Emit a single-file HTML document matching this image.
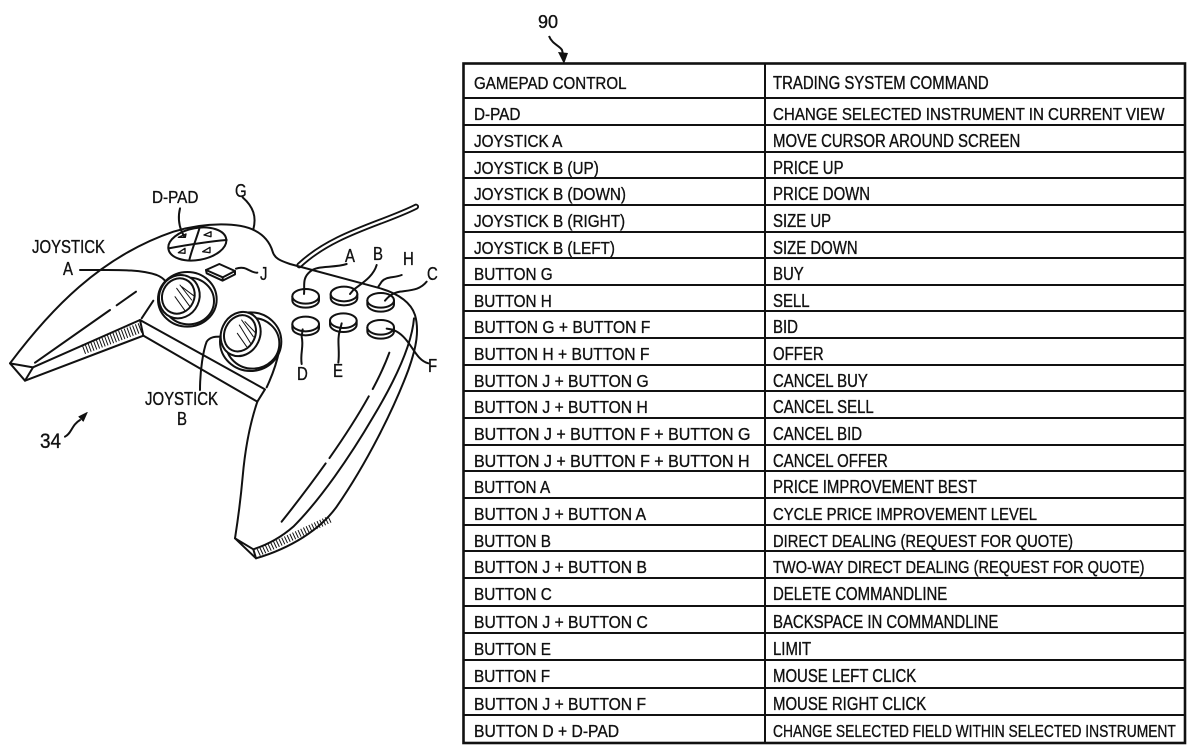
<!DOCTYPE html>
<html><head><meta charset="utf-8"><style>
html,body{margin:0;padding:0;background:#fff;}
svg{display:block;}
text{font-family:"Liberation Sans",Arial,sans-serif;fill:#111;stroke:#111;stroke-width:0.35px;}
</style></head><body>
<svg width="1200" height="756" viewBox="0 0 1200 756" xmlns="http://www.w3.org/2000/svg">
<rect width="1200" height="756" fill="#fff"/>

<!-- ===== GAMEPAD (zoom coords: scale 1/3, offset y 190) ===== -->
<g transform="translate(0,190) scale(0.33333)" fill="none" stroke="#111" stroke-width="6" stroke-linecap="round" stroke-linejoin="round">
  <!-- cable -->
  <path d="M1248,50 C1150,100 1000,130 898,226" stroke-width="18"/>
  <path d="M1248,50 C1150,100 1000,130 898,226" stroke="#fff" stroke-width="7"/>
  <!-- body outer outline -->
  <path d="M30,520 C150,360 300,200 520,125 C620,95 720,98 765,122 C800,140 812,165 818,185 C824,205 840,212 870,222 L1130,292 C1190,308 1232,335 1245,375 C1258,420 1250,470 1225,540 C1180,660 1100,820 1010,950 C960,1020 870,1075 768,1105"/>
  <!-- left handle -->
  <path d="M30,520 L75,572 L99,532 Z"/>
  <path d="M75,572 L430,437"/>
  <path d="M99,532 L420,390"/>
  <path d="M250,478 L425,412" stroke-width="30" stroke-dasharray="3,6" stroke-linecap="butt"/>
  <path d="M420,390 L795,598 L772,635 L430,437 Z"/>
  <path d="M105,518 L330,360 M350,346 L408,305"/>
  <path d="M425,385 L460,332"/>
  <!-- right handle -->
  <path d="M772,635 C750,700 735,780 728,860 C720,950 712,1000 705,1045"/>
  <path d="M705,1045 L760,1078 L768,1105 Z"/>
  <path d="M1242,385 C1235,470 1180,580 1120,680 C1050,800 960,930 880,1010 C840,1045 800,1065 760,1078"/>
  <path d="M775,1088 L995,985" stroke-width="22" stroke-dasharray="3,6" stroke-linecap="butt"/>
  <path d="M1168,488 C1120,620 1000,800 845,995" stroke-dasharray="120,25,220,20,400"/>
  <path d="M838,480 C830,520 815,560 800,592"/>
  <!-- joystick A -->
  <g fill="#fff">
    <ellipse cx="562" cy="328" rx="88" ry="82"/>
    <ellipse cx="566" cy="333" rx="76" ry="70"/>
    <ellipse cx="538" cy="320" rx="60" ry="66" transform="rotate(25 538 320)"/>
    <ellipse cx="535" cy="318" rx="48" ry="54" transform="rotate(25 535 318)"/>
  </g>
  <path d="M540,285 L575,330 M530,295 L570,350 M545,290 L585,320 M525,320 L555,362" stroke-width="3"/>
  <!-- joystick B -->
  <g fill="#fff">
    <ellipse cx="752" cy="455" rx="92" ry="88"/>
    <ellipse cx="758" cy="460" rx="80" ry="76"/>
    <ellipse cx="722" cy="432" rx="58" ry="68" transform="rotate(25 722 432)"/>
    <ellipse cx="720" cy="430" rx="46" ry="56" transform="rotate(25 720 430)"/>
  </g>
  <path d="M725,390 L760,440 M718,405 L752,460 M735,395 L768,430 M712,430 L740,470" stroke-width="3"/>
  <!-- D-pad -->
  <ellipse cx="592" cy="162" rx="88" ry="48" transform="rotate(-10 592 162)" fill="#fff"/>
  <path d="M598,116 C588,150 575,180 568,210"/>
  <path d="M506,175 C560,165 620,155 680,150"/>
  <path d="M535,142 L558,132 L556,142 Z M612,135 L633,125 L633,140 Z M535,188 L555,175 L555,190 Z M608,185 L630,172 L630,188 Z" stroke-width="4"/>
  <!-- J button -->
  <path d="M618,240 L658,222 L705,243 L668,262 Z" fill="#fff"/>
  <path d="M618,240 L620,250 L668,272 L705,253 L705,243 M668,262 L668,272"/>
  <!-- face buttons -->
  <g fill="#fff">
    <path d="M877,319 L877,331 A40,22 0 0 0 957,331 L957,319"/><ellipse cx="917" cy="319" rx="40" ry="22"/>
    <path d="M992,312 L992,324 A40,22 0 0 0 1072,324 L1072,312"/><ellipse cx="1032" cy="312" rx="40" ry="22"/>
    <path d="M1102,331 L1102,343 A40,22 0 0 0 1182,343 L1182,331"/><ellipse cx="1142" cy="331" rx="40" ry="22"/>
    <path d="M877,402 L877,414 A40,22 0 0 0 957,414 L957,402"/><ellipse cx="917" cy="402" rx="40" ry="22"/>
    <path d="M990,392 L990,404 A40,22 0 0 0 1070,404 L1070,392"/><ellipse cx="1030" cy="392" rx="40" ry="22"/>
    <path d="M1102,412 L1102,424 A40,22 0 0 0 1182,424 L1182,412"/><ellipse cx="1142" cy="412" rx="40" ry="22"/>
  </g>
  <!-- leader lines -->
  <path d="M240,240 L300,240 C350,240 420,238 470,255 C482,260 490,266 495,272"/>
  <path d="M540,55 C535,75 535,100 545,125 L552,138"/>
  <path d="M728,22 C760,50 770,80 760,118"/>
  <path d="M772,248 C750,250 740,225 708,236"/>
  <path d="M1040,222 C1000,235 950,225 930,245 C905,265 915,290 912,312"/>
  <path d="M1130,225 C1120,260 1085,280 1060,300 L1050,312"/>
  <path d="M1205,255 C1180,265 1160,258 1145,275 L1135,290"/>
  <path d="M1280,275 C1260,300 1235,300 1200,305 C1175,310 1165,320 1155,332"/>
  <path d="M1285,520 C1250,510 1240,470 1210,440 C1190,420 1175,418 1160,416"/>
  <path d="M905,522 C900,490 912,470 905,440 L908,418"/>
  <path d="M1015,518 C1020,480 1010,450 1020,420 L1025,400"/>
  <path d="M600,600 C600,540 610,480 620,455 C630,440 645,440 662,440"/>
  <path d="M195,740 C215,730 215,705 240,690"/>
  <path d="M262,667 L236,680 L250,694 Z" fill="#111" stroke-width="2"/>
</g>

<!-- gamepad labels -->
<g font-size="18">
  <text transform="translate(32 253) scale(.83 1)">JOYSTICK</text>
  <text transform="translate(63 275) scale(.83 1)">A</text>
  <text transform="translate(152 203) scale(.85 1)">D-PAD</text>
  <text transform="translate(235 197) scale(.83 1)">G</text>
  <text transform="translate(260 280) scale(.83 1)">J</text>
  <text transform="translate(345 262) scale(.83 1)">A</text>
  <text transform="translate(373 260) scale(.83 1)">B</text>
  <text transform="translate(403 265) scale(.83 1)">H</text>
  <text transform="translate(427 280) scale(.83 1)">C</text>
  <text transform="translate(428 372) scale(.83 1)">F</text>
  <text transform="translate(297 380) scale(.83 1)">D</text>
  <text transform="translate(333 377) scale(.83 1)">E</text>
  <text transform="translate(145 405) scale(.83 1)">JOYSTICK</text>
  <text transform="translate(177 425) scale(.83 1)">B</text>
</g>
<text transform="translate(40 448) scale(.9 1)" font-size="21">34</text>

<!-- ===== TABLE ===== -->
<text x="538" y="28" font-size="18">90</text>
<path d="M549,36 C552,44 560,46 562,50 L563,54" fill="none" stroke="#111" stroke-width="2"/>
<path d="M558,52 L568,53 L564,64 Z" fill="#111"/>

<g stroke="#111" fill="none">
  <rect x="463.5" y="63.5" width="721.5" height="679.5" stroke-width="2.6"/>
  <line x1="765" y1="63" x2="765" y2="743" stroke-width="2"/>
  <g stroke-width="2">
    <line x1="463" y1="98" x2="1185" y2="98"/>
    <line x1="463" y1="125" x2="1185" y2="125"/>
    <line x1="463" y1="152" x2="1185" y2="152"/>
    <line x1="463" y1="178" x2="1185" y2="178"/>
    <line x1="463" y1="205" x2="1185" y2="205"/>
    <line x1="463" y1="232" x2="1185" y2="232"/>
    <line x1="463" y1="258" x2="1185" y2="258"/>
    <line x1="463" y1="285" x2="1185" y2="285"/>
    <line x1="463" y1="311" x2="1185" y2="311"/>
    <line x1="463" y1="338" x2="1185" y2="338"/>
    <line x1="463" y1="365" x2="1185" y2="365"/>
    <line x1="463" y1="391" x2="1185" y2="391"/>
    <line x1="463" y1="418" x2="1185" y2="418"/>
    <line x1="463" y1="445" x2="1185" y2="445"/>
    <line x1="463" y1="471" x2="1185" y2="471"/>
    <line x1="463" y1="498" x2="1185" y2="498"/>
    <line x1="463" y1="525" x2="1185" y2="525"/>
    <line x1="463" y1="551" x2="1185" y2="551"/>
    <line x1="463" y1="578" x2="1185" y2="578"/>
    <line x1="463" y1="606" x2="1185" y2="606"/>
    <line x1="463" y1="633" x2="1185" y2="633"/>
    <line x1="463" y1="660" x2="1185" y2="660"/>
    <line x1="463" y1="688" x2="1185" y2="688"/>
    <line x1="463" y1="715" x2="1185" y2="715"/>
  </g>
</g>

<g font-size="18">
  <text transform="translate(474 89) scale(.84 1)">GAMEPAD CONTROL</text>
  <text transform="translate(773 89) scale(.83 1)">TRADING SYSTEM COMMAND</text>

  <text transform="translate(474 120) scale(.85 1)">D-PAD</text>
  <text transform="translate(773 120) scale(.84 1)">CHANGE SELECTED INSTRUMENT IN CURRENT VIEW</text>
  <text transform="translate(474 147) scale(.85 1)">JOYSTICK A</text>
  <text transform="translate(773 147) scale(.83 1)">MOVE CURSOR AROUND SCREEN</text>
  <text transform="translate(474 174) scale(.85 1)">JOYSTICK B (UP)</text>
  <text transform="translate(773 174) scale(.83 1)">PRICE UP</text>
  <text transform="translate(474 200) scale(.85 1)">JOYSTICK B (DOWN)</text>
  <text transform="translate(773 200) scale(.83 1)">PRICE DOWN</text>
  <text transform="translate(474 227) scale(.85 1)">JOYSTICK B (RIGHT)</text>
  <text transform="translate(773 227) scale(.83 1)">SIZE UP</text>
  <text transform="translate(474 254) scale(.85 1)">JOYSTICK B (LEFT)</text>
  <text transform="translate(773 254) scale(.83 1)">SIZE DOWN</text>
  <text transform="translate(474 280) scale(.85 1)">BUTTON G</text>
  <text transform="translate(773 280) scale(.83 1)">BUY</text>
  <text transform="translate(474 307) scale(.85 1)">BUTTON H</text>
  <text transform="translate(773 307) scale(.83 1)">SELL</text>
  <text transform="translate(474 333) scale(.87 1)">BUTTON G + BUTTON F</text>
  <text transform="translate(773 333) scale(.83 1)">BID</text>
  <text transform="translate(474 360) scale(.87 1)">BUTTON H + BUTTON F</text>
  <text transform="translate(773 360) scale(.83 1)">OFFER</text>
  <text transform="translate(474 387) scale(.87 1)">BUTTON J + BUTTON G</text>
  <text transform="translate(773 387) scale(.83 1)">CANCEL BUY</text>
  <text transform="translate(474 413) scale(.87 1)">BUTTON J + BUTTON H</text>
  <text transform="translate(773 413) scale(.83 1)">CANCEL SELL</text>
  <text transform="translate(474 440) scale(.89 1)">BUTTON J + BUTTON F + BUTTON G</text>
  <text transform="translate(773 440) scale(.83 1)">CANCEL BID</text>
  <text transform="translate(474 467) scale(.89 1)">BUTTON J + BUTTON F + BUTTON H</text>
  <text transform="translate(773 467) scale(.83 1)">CANCEL OFFER</text>
  <text transform="translate(474 493) scale(.85 1)">BUTTON A</text>
  <text transform="translate(773 493) scale(.83 1)">PRICE IMPROVEMENT BEST</text>
  <text transform="translate(474 520) scale(.87 1)">BUTTON J + BUTTON A</text>
  <text transform="translate(773 520) scale(.826 1)">CYCLE PRICE IMPROVEMENT LEVEL</text>
  <text transform="translate(474 547) scale(.85 1)">BUTTON B</text>
  <text transform="translate(773 547) scale(.82 1)">DIRECT DEALING (REQUEST FOR QUOTE)</text>
  <text transform="translate(474 573) scale(.87 1)">BUTTON J + BUTTON B</text>
  <text transform="translate(773 573) scale(.812 1)">TWO-WAY DIRECT DEALING (REQUEST FOR QUOTE)</text>
  <text transform="translate(474 600) scale(.85 1)">BUTTON C</text>
  <text transform="translate(773 600) scale(.83 1)">DELETE COMMANDLINE</text>
  <text transform="translate(474 628) scale(.87 1)">BUTTON J + BUTTON C</text>
  <text transform="translate(773 628) scale(.83 1)">BACKSPACE IN COMMANDLINE</text>
  <text transform="translate(474 655) scale(.85 1)">BUTTON E</text>
  <text transform="translate(773 655) scale(.83 1)">LIMIT</text>
  <text transform="translate(474 682) scale(.85 1)">BUTTON F</text>
  <text transform="translate(773 682) scale(.83 1)">MOUSE LEFT CLICK</text>
  <text transform="translate(474 710) scale(.87 1)">BUTTON J + BUTTON F</text>
  <text transform="translate(773 710) scale(.83 1)">MOUSE RIGHT CLICK</text>
  <text transform="translate(474 737) scale(.87 1)">BUTTON D + D-PAD</text>
  <text transform="translate(773 737) scale(.768 1)">CHANGE SELECTED FIELD WITHIN SELECTED INSTRUMENT</text>
</g>
</svg>
</body></html>
